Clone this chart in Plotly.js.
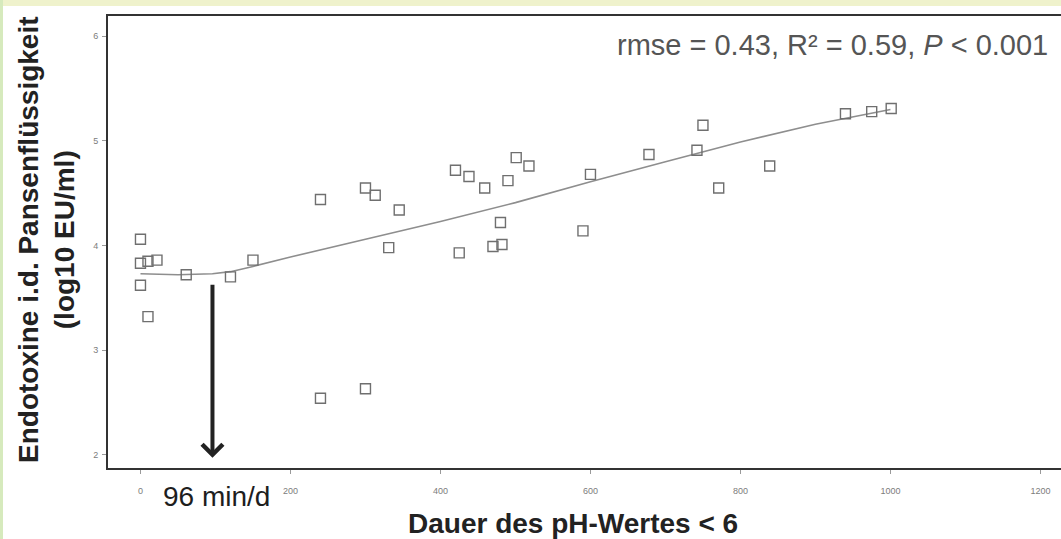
<!DOCTYPE html>
<html>
<head>
<meta charset="utf-8">
<script src="https://cdn.plot.ly/plotly-3.0.1.min.js"></script>
<style>
  html, body { margin: 0; padding: 0; background: #ffffff; }
  #wrap { position: relative; width: 1061px; height: 539px; overflow: hidden; background: #ffffff; }
  #chart { position: absolute; left: 0; top: 0; width: 1061px; height: 539px; }
  #topstrip { position: absolute; left: 0; top: 0; width: 1061px; height: 6px; background: #eff2cc; z-index: 5; }
  #leftstrip { position: absolute; left: 0; top: 0; width: 3px; height: 539px; background: #d6eabd; z-index: 5; }
</style>
</head>
<body>
<div id="wrap">
  <div id="chart"></div>
  <div id="topstrip"></div>
  <div id="leftstrip"></div>
</div>
<script>
// Observed data: duration of ruminal pH < 6 (min/d) vs. endotoxin (log10 EU/ml)
const durationMin = [0, 0, 10, 22, 0, 10, 61, 120, 150, 240, 240, 300, 313, 300, 331, 345,
                     420, 438, 459, 425, 470, 482, 480, 490, 501, 518, 590, 600, 678, 742,
                     750, 771, 839, 940, 975, 1001];
const endotoxinLog = [4.06, 3.83, 3.85, 3.86, 3.62, 3.32, 3.72, 3.70, 3.86, 4.44, 2.54, 4.55, 4.48, 2.63, 3.98, 4.34,
                      4.72, 4.66, 4.55, 3.93, 3.99, 4.01, 4.22, 4.62, 4.84, 4.76, 4.14, 4.68, 4.87, 4.91,
                      5.15, 4.55, 4.76, 5.26, 5.28, 5.31];

// Fitted curve
const fitX = [0, 50, 96, 120, 150, 200, 300, 400, 500, 600, 700, 800, 900, 1000];
const fitY = [3.73, 3.72, 3.73, 3.75, 3.80, 3.89, 4.06, 4.23, 4.41, 4.61, 4.80, 4.99, 5.16, 5.30];

// Threshold marker
const thresholdMin = 96;
const thresholdLabel = '96 min/d';
const arrowFromY = 3.64;
const arrowToY = 1.97;

// Tick labels
const xTicks = [0, 200, 400, 600, 800, 1000, 1200];
const yTicks = [2, 3, 4, 5, 6];

const statsText = 'rmse = 0.43, R\u00B2 = 0.59, <i>P</i> &lt; 0.001';
const xTitle = 'Dauer des pH-Wertes &lt; 6';
const yTitle = 'Endotoxine i.d. Pansenflüssigkeit<br>(log10 EU/ml)';

const traces = [
  {
    x: fitX, y: fitY, type: 'scatter', mode: 'lines',
    line: { color: '#8e8e8e', width: 1.6 }, hoverinfo: 'skip', showlegend: false
  },
  {
    x: durationMin, y: endotoxinLog, type: 'scatter', mode: 'markers',
    marker: { symbol: 'square-open', size: 10, color: '#6f6f6f', line: { width: 1.4, color: '#6f6f6f' } },
    showlegend: false
  }
];

const FONT = 'Liberation Sans, Arial, sans-serif';

const layout = {
  width: 1061, height: 539,
  margin: { l: 108, r: 0, t: 16, b: 71, pad: 0 },
  paper_bgcolor: '#ffffff', plot_bgcolor: '#ffffff',
  showlegend: false,
  font: { family: FONT },
  xaxis: {
    range: [-43.3, 1227.4],
    tickmode: 'array', tickvals: xTicks, ticktext: xTicks.map(String),
    showgrid: false, zeroline: false,
    showline: true, linecolor: '#333333', linewidth: 2, mirror: true,
    ticks: 'outside', ticklen: 4, tickcolor: '#9a9a9a', tickwidth: 1,
    tickfont: { family: FONT, size: 9, color: '#7c7c7c' },
    ticklabelstandoff: 9
  },
  yaxis: {
    range: [1.873, 6.194],
    tickmode: 'array', tickvals: yTicks, ticktext: yTicks.map(String),
    showgrid: false, zeroline: false,
    showline: true, linecolor: '#333333', linewidth: 2, mirror: false,
    ticks: 'outside', ticklen: 4, tickcolor: '#9a9a9a', tickwidth: 1,
    tickfont: { family: FONT, size: 9, color: '#7c7c7c' },
    ticklabelstandoff: 2
  },
  annotations: [
    {
      xref: 'paper', yref: 'paper', x: 1 - 11/953, y: 1 - 29/452,
      xanchor: 'right', yanchor: 'middle', showarrow: false,
      text: statsText,
      font: { family: FONT, size: 29, color: '#555555' }
    },
    {
      xref: 'x', yref: 'y', x: thresholdMin, y: arrowToY,
      axref: 'x', ayref: 'y', ax: thresholdMin, ay: arrowFromY,
      text: '', showarrow: true, arrowhead: 4, arrowsize: 1, arrowwidth: 4,
      arrowcolor: '#222222', standoff: 0, startstandoff: 0
    },
    {
      xref: 'paper', yref: 'paper', x: (161 - 108)/953, y: -(497 - 468)/452,
      xanchor: 'left', yanchor: 'middle', showarrow: false,
      text: thresholdLabel,
      font: { family: FONT, size: 28, color: '#1e1e1e' }
    },
    {
      xref: 'paper', yref: 'paper', x: (573 - 108)/953, y: -(523 - 468)/452,
      xanchor: 'center', yanchor: 'middle', showarrow: false,
      text: xTitle,
      font: { family: FONT, size: 28, color: '#222222', weight: 700 }
    },
    {
      xref: 'paper', yref: 'paper', x: -(108 - 46)/953, y: (468 - 240)/452,
      xanchor: 'center', yanchor: 'middle', showarrow: false, textangle: -90,
      text: yTitle,
      font: { family: FONT, size: 28, color: '#222222', weight: 700 }
    }
  ]
};

Plotly.newPlot('chart', traces, layout, { displayModeBar: false, staticPlot: true });
</script>
</body>
</html>
